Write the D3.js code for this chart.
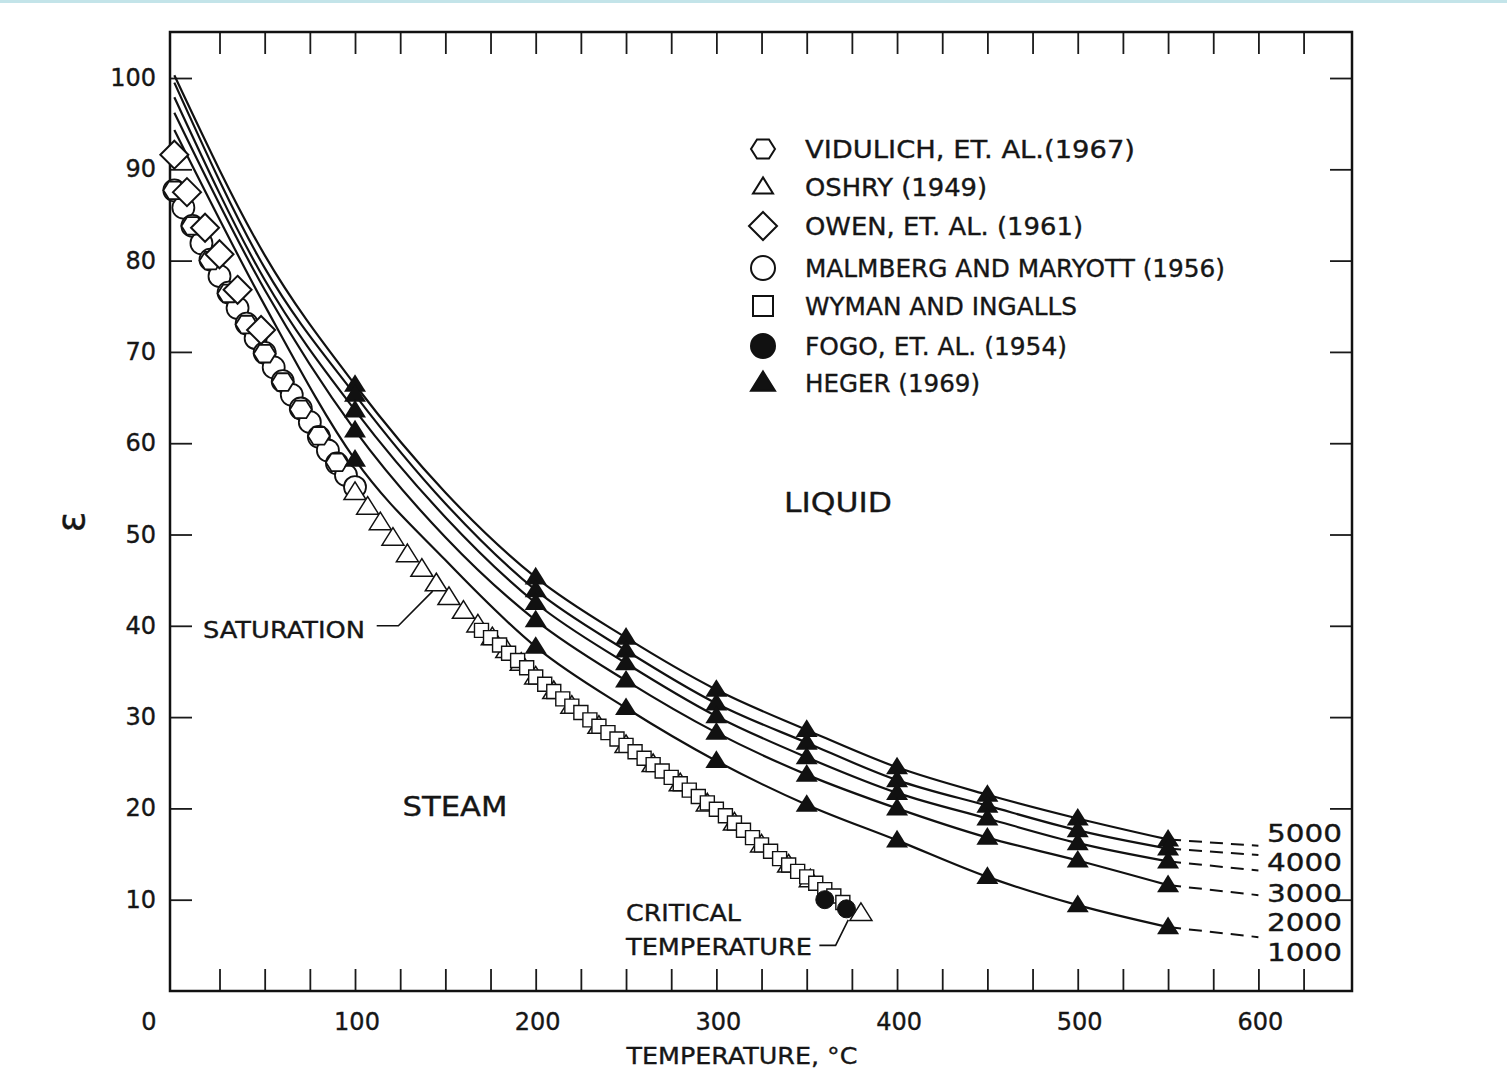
<!DOCTYPE html>
<html>
<head>
<meta charset="utf-8">
<script src="https://cdn.jsdelivr.net/npm/d3@7"></script>
<style>
  body { margin: 0; background: #fff; }
  svg text { font-family: "DejaVu Sans", sans-serif; fill: #161616; stroke: #161616; stroke-width: 0.35; }
</style>
</head>
<body>
<svg id="chart" width="1507" height="1090"></svg>
<script>
// isobars (bars), dielectric constant read at these temperatures
var curveT = [0, 50, 100, 150, 200, 250, 300, 350, 400, 450, 500, 550];
var eps5000 = [100.3, 80.6, 66.4, 54.6, 45.3, 38.7, 33.0, 28.6, 24.5, 21.5, 18.9, 16.6];
var eps4000 = [99.5, 79.2, 65.3, 53.4, 43.9, 37.3, 31.5, 27.2, 23.1, 20.3, 17.6, 15.6];
var eps3000 = [97.9, 77.9, 63.6, 51.9, 42.5, 35.9, 30.1, 25.6, 21.7, 18.9, 16.2, 14.2];
var eps2000 = [96.2, 76.8, 61.4, 49.7, 40.6, 34.0, 28.3, 23.7, 20.0, 16.8, 14.3, 11.6];
var eps1000 = [94.3, 75.1, 58.2, 47.2, 37.7, 31.0, 25.2, 20.4, 16.5, 12.5, 9.4, 7.0];

// dashed extrapolation 550 -> 600
var extT = [550, 600];
var ext5000 = [16.6, 15.9];
var ext4000 = [15.6, 14.9];
var ext3000 = [14.2, 13.2];
var ext2000 = [11.6, 10.5];
var ext1000 = [7.0, 5.9];

var pressures = ["5000", "4000", "3000", "2000", "1000"];
var isobars = [eps5000, eps4000, eps3000, eps2000, eps1000];
var extensions = [ext5000, ext4000, ext3000, ext2000, ext1000];

// Heger (1969) measured temperatures
var hegerT = [100, 200, 250, 300, 350, 400, 450, 500, 550];

// saturation data
var vidulichT = [0, 10, 20, 30, 40, 50, 60, 70, 80, 90];
var vidulichE = [87.7, 83.8, 80.0, 76.4, 73.0, 69.8, 66.7, 63.7, 60.8, 57.9];

var owenT = [0, 7, 17, 25, 35, 48];
var owenE = [91.6, 87.5, 83.6, 80.7, 76.8, 72.4];

var malmbergT = [0, 5, 10, 15, 20, 25, 30, 35, 40, 45, 50, 55, 60, 65, 70, 75, 80, 85, 90, 95, 100];
var malmbergE = [87.7, 85.8, 83.8, 81.9, 80.1, 78.3, 76.5, 74.8, 73.1, 71.5, 69.9, 68.3, 66.8, 65.3, 63.8, 62.3, 60.7, 59.2, 57.8, 56.5, 55.2];

var oshryT = [100, 107, 114, 121, 129, 137, 145, 152, 160, 168, 176, 184, 192, 200, 210, 220, 235, 250, 265, 280, 295, 310, 325, 340, 352, 362, 380];
var oshryE = [54.6, 53.0, 51.3, 49.6, 47.8, 46.2, 44.6, 43.1, 41.6, 40.1, 38.7, 37.3, 35.9, 34.4, 32.8, 31.2, 29.0, 26.9, 24.8, 22.7, 20.5, 18.4, 16.0, 13.8, 12.2, 10.5, 8.5];

var wymanT = [170, 175, 180, 185, 190, 195, 200, 205, 210, 215, 220, 225, 230, 235, 240, 245, 250, 255, 260, 265, 270, 275, 280, 285, 290, 295, 300, 305, 310, 315, 320, 325, 330, 335, 340, 345, 350, 355, 360, 365, 370];
var wymanE = [39.5, 38.7, 37.9, 37.0, 36.2, 35.4, 34.4, 33.6, 32.8, 32.0, 31.2, 30.5, 29.7, 29.0, 28.3, 27.6, 26.9, 26.2, 25.5, 24.8, 24.1, 23.4, 22.7, 22.0, 21.3, 20.6, 19.9, 19.2, 18.4, 17.6, 16.8, 16.0, 15.3, 14.5, 13.8, 13.1, 12.5, 11.8, 11.1, 10.4, 9.7];

var fogoT = [360, 372];
var fogoE = [10.0, 9.0];

var xLabels = [0, 100, 200, 300, 400, 500, 600];
var yLabels = [10, 20, 30, 40, 50, 60, 70, 80, 90, 100];

var legendItems = [
  { shape: "hex", filled: false, r: 12, label: "VIDULICH, ET. AL.(1967)", w: 330 },
  { shape: "tri", filled: false, r: 10, label: "OSHRY (1949)", w: 182 },
  { shape: "dia", filled: false, r: 14, label: "OWEN, ET. AL. (1961)", w: 278 },
  { shape: "circ", filled: false, r: 12, label: "MALMBERG AND MARYOTT (1956)", w: 420 },
  { shape: "sq", filled: false, r: 10, label: "WYMAN AND INGALLS", w: 272 },
  { shape: "circ", filled: true, r: 12, label: "FOGO, ET. AL. (1954)", w: 262 },
  { shape: "tri", filled: true, r: 12, label: "HEGER (1969)", w: 175 }
];

var svg = d3.select("#chart");

// thin strip at the very top of the scan
svg.append("rect").attr("x", 0).attr("y", 0).attr("width", 1507).attr("height", 3).attr("fill", "#c3e4e9");

var x = d3.scaleLinear().domain([-2.4, 651.8]).range([170, 1352]);
var y = d3.scaleLinear().domain([0, 105.04]).range([991, 32]);

function shapePath(kind, r) {
  if (kind == "hex") {
    var pts = d3.range(6).map(i => [r * Math.cos(i * Math.PI / 3), r * 0.92 * Math.sin(i * Math.PI / 3)]);
    return "M" + pts.join("L") + "Z";
  }
  if (kind == "tri") {
    var h = r * 1.6;
    return "M0," + (-h * 0.6) + "L" + r + "," + (h * 0.4) + "L" + (-r) + "," + (h * 0.4) + "Z";
  }
  if (kind == "dia") return "M0," + (-r) + "L" + r + ",0L0," + r + "L" + (-r) + ",0Z";
  if (kind == "sq") return "M" + (-r) + "," + (-r) + "H" + r + "V" + r + "H" + (-r) + "Z";
  return d3.symbol(d3.symbolCircle, Math.PI * r * r)();
}

// text helper: stretch glyphs to the width measured on the scan
function label(parent, tx, ty, str, size, width, anchor) {
  var t = parent.append("text")
    .attr("x", tx).attr("y", ty)
    .attr("font-size", size)
    .attr("text-anchor", anchor || "start")
    .text(str);
  if (width) t.attr("textLength", width).attr("lengthAdjust", "spacingAndGlyphs");
  return t;
}

// ticks (inward, all four sides)
function styleTicks(g) {
  g.select(".domain").remove();
  g.selectAll("line").attr("stroke", "#1a1a1a").attr("stroke-width", 1.8);
}
var xTicks = d3.range(25, 626, 25);
var yTicks = d3.range(10, 101, 10);
svg.append("g").attr("transform", "translate(0,991)")
  .call(d3.axisBottom(x).tickValues(xTicks).tickSize(-22).tickFormat("")).call(styleTicks);
svg.append("g").attr("transform", "translate(0,32)")
  .call(d3.axisTop(x).tickValues(xTicks).tickSize(-22).tickFormat("")).call(styleTicks);
svg.append("g").attr("transform", "translate(170,0)")
  .call(d3.axisLeft(y).tickValues(yTicks).tickSize(-22).tickFormat("")).call(styleTicks);
svg.append("g").attr("transform", "translate(1352,0)")
  .call(d3.axisRight(y).tickValues(yTicks).tickSize(-22).tickFormat("")).call(styleTicks);

// frame
svg.append("rect").attr("x", 170).attr("y", 32).attr("width", 1182).attr("height", 959)
  .attr("fill", "none").attr("stroke", "#111").attr("stroke-width", 2.5);

// tick labels
xLabels.forEach(function(d) {
  label(svg, d == 0 ? 149 : x(d) + 2, 1030, d, 24, null, "middle");
});
yLabels.forEach(function(d) {
  label(svg, 156, y(d) + 8, d, 24, null, "end");
});

label(svg, 742, 1064, "TEMPERATURE, °C", 23, 231, "middle");
svg.append("text").attr("transform", "translate(84,522) rotate(-90)")
  .attr("text-anchor", "middle").attr("font-size", 38).text("ε");

// isobars
var line = d3.line().x(d => x(d[0])).y(d => y(d[1])).curve(d3.curveMonotoneX);
isobars.forEach(function(vals) {
  svg.append("path")
    .attr("d", line(curveT.map((t, j) => [t, vals[j]])))
    .attr("fill", "none").attr("stroke", "#111").attr("stroke-width", 2.2);
});
extensions.forEach(function(vals) {
  svg.append("path")
    .attr("d", d3.line().x(d => x(d[0])).y(d => y(d[1]))(extT.map((t, j) => [t, vals[j]])))
    .attr("fill", "none").attr("stroke", "#111").attr("stroke-width", 2)
    .attr("stroke-dasharray", "13,8");
});

// pressure labels on the right
pressures.forEach(function(p, i) {
  label(svg, 1342, [842, 871, 902, 931, 961][i], p, 25, 75, "end");
});

// saturation markers
function drawSeries(ts, es, kind, r, filled, sw) {
  svg.append("g").selectAll("path").data(ts).enter().append("path")
    .attr("transform", (d, i) => "translate(" + x(d) + "," + y(es[i]) + ")")
    .attr("d", shapePath(kind, r))
    .attr("fill", filled ? "#111" : "#fff")
    .attr("stroke", "#111")
    .attr("stroke-width", sw);
}
drawSeries(malmbergT, malmbergE, "circ", 11, false, 1.8);
drawSeries(vidulichT, vidulichE, "hex", 11, false, 1.8);
drawSeries(owenT, owenE, "dia", 14, false, 2);
drawSeries(oshryT, oshryE, "tri", 11, false, 1.5);
drawSeries(wymanT, wymanE, "sq", 7, false, 1.4);
drawSeries(fogoT, fogoE, "circ", 9, true, 1);

// Heger triangles on isobars
isobars.forEach(function(vals) {
  var pts = curveT.map((t, j) => [t, vals[j]]).filter(p => hegerT.indexOf(p[0]) >= 0);
  svg.append("g").selectAll("path").data(pts).enter().append("path")
    .attr("transform", d => "translate(" + x(d[0]) + "," + y(d[1]) + ")")
    .attr("d", shapePath("tri", 11))
    .attr("fill", "#111");
});

// region labels and annotations
label(svg, 838, 512, "LIQUID", 27, 108, "middle");
label(svg, 455, 816, "STEAM", 27, 105, "middle");
label(svg, 203, 638, "SATURATION", 23, 162);
label(svg, 626, 921, "CRITICAL", 23, 115);
label(svg, 626, 955, "TEMPERATURE", 23, 186);

var satLeader = [[112, 40.0], [124, 40.0], [143, 43.8]];
var critLeader = [[357, 5.0], [366, 5.0], [373, 7.8]];
[satLeader, critLeader].forEach(function(pts) {
  svg.append("path")
    .attr("d", d3.line().x(d => x(d[0])).y(d => y(d[1]))(pts))
    .attr("fill", "none").attr("stroke", "#111").attr("stroke-width", 1.6);
});

// legend
var legend = svg.append("g");
legendItems.forEach(function(item, i) {
  var cy = [149, 187, 226, 268, 306, 346, 383][i];
  legend.append("path")
    .attr("transform", "translate(763," + cy + ")")
    .attr("d", shapePath(item.shape, item.r))
    .attr("fill", item.filled ? "#111" : "#fff")
    .attr("stroke", "#111")
    .attr("stroke-width", 2);
  label(legend, 805, cy + 9, item.label, 24, item.w);
});
</script>
</body>
</html>
